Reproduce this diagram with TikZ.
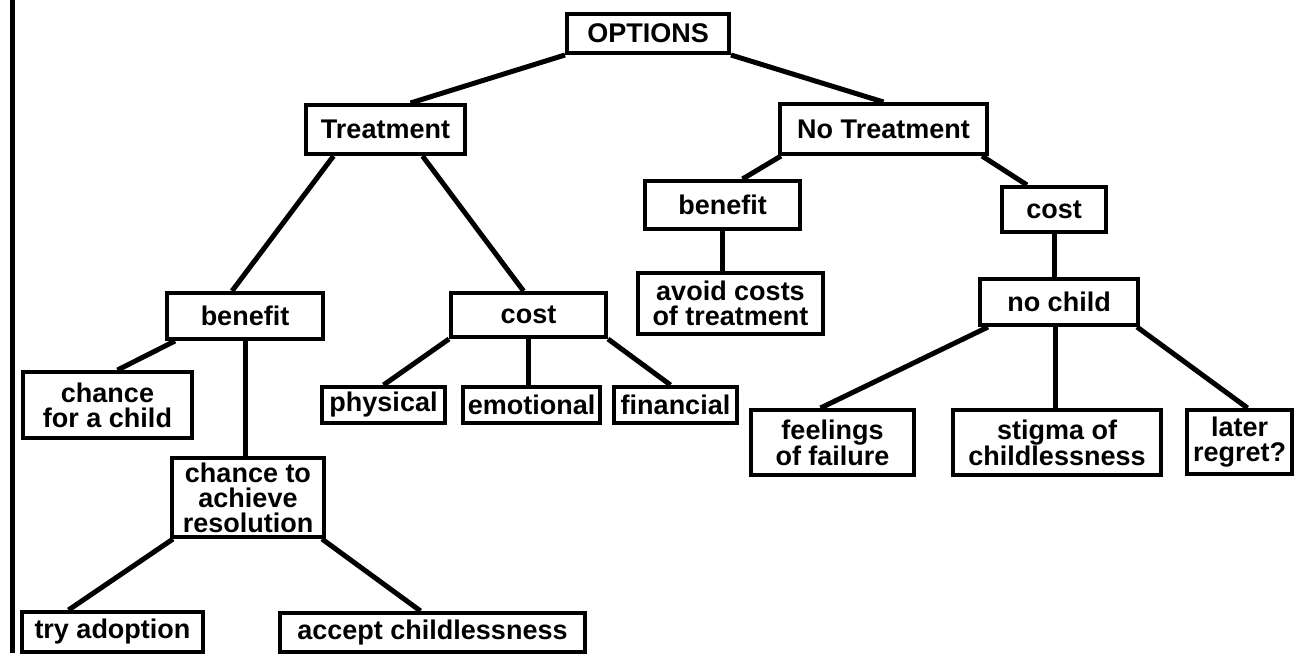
\documentclass[tikz,border=0pt]{standalone}
\usepackage{fontspec}
\setmainfont{Liberation Sans}
\usepackage{tikz}

\tikzset{
  optbox/.style={draw, line width=4pt, fill=white, inner sep=0pt,
    align=center, font=\fontsize{27}{25}\selectfont\bfseries},
  link/.style={line width=5pt},
}

\begin{document}
\begin{tikzpicture}[x=1pt, y=-1pt]
        \useasboundingbox (0,0) rectangle (1295,653);
        % Frame edge
        \draw[line width=5pt] (12,0) -- (12,653);

        % Root
        \node[optbox, minimum width=162, minimum height=39] (opt) at (648,33.5) {OPTIONS};
        \node[optbox, minimum width=159, minimum height=49] (treat) at (385.5,129.5) {Treatment};
        \node[optbox, minimum width=207, minimum height=50] (notreat) at (883.5,129) {No Treatment};

        % Treatment branch
        \node[optbox, minimum width=156, minimum height=46] (benL) at (245,316) {benefit};
        \node[optbox, minimum width=155, minimum height=44] (costL) at (528.5,315) {cost};
        \node[optbox, minimum width=169, minimum height=66] (chchild) at (107.5,405) {chance\\for a child};
        \node[optbox, minimum width=152, minimum height=79] (achieve) at (248,497.5) {chance to\\achieve\\resolution};
        \node[optbox, minimum width=181, minimum height=40] (adopt) at (112.5,632) {try adoption};
        \node[optbox, minimum width=305, minimum height=39] (accept) at (432.5,632.5) {accept childlessness};
        \node[optbox, minimum width=123, minimum height=36] (phys) at (383.5,405) {physical};
        \node[optbox, minimum width=137, minimum height=36] (emot) at (531.5,405) {emotional};
        \node[optbox, minimum width=123, minimum height=36] (fin) at (675.5,405) {financial};

        % No Treatment branch
        \node[optbox, minimum width=155, minimum height=48] (benR) at (722.5,205) {benefit};
        \node[optbox, minimum width=104, minimum height=45] (costR) at (1054,209.5) {cost};
        \node[optbox, minimum width=185, minimum height=61] (avoid) at (730.5,303.5) {avoid costs\\of treatment};
        \node[optbox, minimum width=158, minimum height=46] (nochild) at (1059,302) {no child};
        \node[optbox, minimum width=163, minimum height=65] (feel) at (832.5,442.5) {feelings\\of failure};
        \node[optbox, minimum width=208, minimum height=65] (stigma) at (1057,442.5) {stigma of\\childlessness};
        \node[optbox, minimum width=105, minimum height=64] (regret) at (1239.5,442) {later\\regret?};

        % Connectors
        \draw[link] (opt.south west) -- ([xshift=25]treat.north);
        \draw[link] (opt.south east) -- (notreat.north);
        \draw[link] ([xshift=-52]treat.south) -- ([xshift=-13]benL.north);
        \draw[link] ([xshift=37]treat.south) -- ([xshift=-5]costL.north);
        \draw[link] ([xshift=3]notreat.south west) -- ([xshift=20]benR.north);
        \draw[link] ([xshift=-7]notreat.south east) -- ([xshift=-27]costR.north);
        \draw[link] ([xshift=10]benL.south west) -- ([xshift=10]chchild.north);
        \draw[link] (benL.south) -- (benL.south |- achieve.north);
        \draw[link] ([xshift=3]achieve.south west) -- ([xshift=-44]adopt.north);
        \draw[link] ([xshift=-4]achieve.south east) -- ([xshift=-12]accept.north);
        \draw[link] (costL.south west) -- (phys.north);
        \draw[link] (costL.south) -- (costL.south |- emot.north);
        \draw[link] (costL.south east) -- ([xshift=-5]fin.north);
        \draw[link] (benR.south) -- (benR.south |- avoid.north);
        \draw[link] (costR.south) -- (costR.south |- nochild.north);
        \draw[link] ([xshift=10]nochild.south west) -- ([xshift=-12]feel.north);
        \draw[link] ([xshift=-4]nochild.south) -- ([xshift=-4]nochild.south |- stigma.north);
        \draw[link] ([xshift=-3]nochild.south east) -- ([xshift=8]regret.north);
\end{tikzpicture}
\end{document}
